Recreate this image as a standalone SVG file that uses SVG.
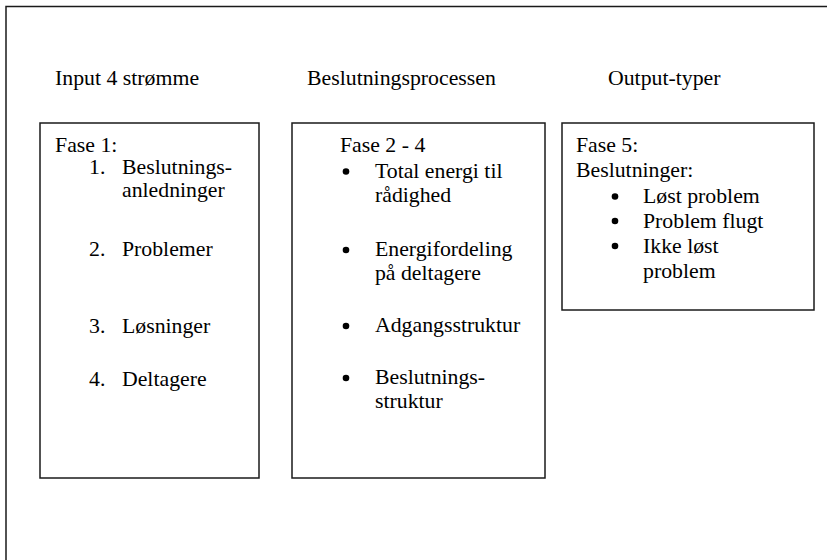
<svg xmlns="http://www.w3.org/2000/svg" width="827" height="560" viewBox="0 0 827 560">
  <style>
    .frame { fill: none; stroke: #1a1a1a; stroke-width: 1.5; }
    .box { fill: #ffffff; stroke: #1a1a1a; stroke-width: 1.5; }
    .t { font-family: "Liberation Serif", "Times New Roman", serif; font-size: 20px; fill: #000; }
    .dot { fill: #000; }
  </style>
  <rect width="827" height="560" fill="#ffffff"/>
  <!-- outer frame: left and top edges -->
  <path class="frame" d="M6,560 V6.5 H827"/>

  <!-- column headings -->
  <g id="headings" transform="scale(1.09 1)">
    <text class="t" x="50.5" y="85">Input 4 strømme</text>
    <text class="t" x="281.7" y="85">Beslutningsprocessen</text>
    <text class="t" x="557.8" y="85">Output-typer</text>
  </g>

  <!-- phase 1: input streams -->
  <g id="fase1">
    <rect class="box" x="40" y="123" width="219" height="355"/>
    <g transform="scale(1.09 1)">
      <text class="t" x="50.5" y="152">Fase 1:</text>
      <text class="t" x="81.7" y="174">1.</text>
      <text class="t" x="111.9" y="174">Beslutnings-</text>
      <text class="t" x="111.9" y="197">anledninger</text>
      <text class="t" x="81.7" y="256">2.</text>
      <text class="t" x="111.9" y="256">Problemer</text>
      <text class="t" x="81.7" y="333">3.</text>
      <text class="t" x="111.9" y="333">Løsninger</text>
      <text class="t" x="81.7" y="386">4.</text>
      <text class="t" x="111.9" y="386">Deltagere</text>
    </g>
  </g>

  <!-- phases 2-4: decision process -->
  <g id="fase2-4">
    <rect class="box" x="292" y="123" width="253" height="355"/>
    <circle class="dot" cx="346" cy="171.5" r="3.3"/>
    <circle class="dot" cx="346" cy="250" r="3.3"/>
    <circle class="dot" cx="346" cy="326" r="3.3"/>
    <circle class="dot" cx="346" cy="378" r="3.3"/>
    <g transform="scale(1.09 1)">
      <text class="t" x="311.9" y="152">Fase 2 - 4</text>
      <text class="t" x="344" y="178">Total energi til</text>
      <text class="t" x="344" y="202">rådighed</text>
      <text class="t" x="344" y="256">Energifordeling</text>
      <text class="t" x="344" y="280">på deltagere</text>
      <text class="t" x="344" y="332">Adgangsstruktur</text>
      <text class="t" x="344" y="384">Beslutnings-</text>
      <text class="t" x="344" y="408">struktur</text>
    </g>
  </g>

  <!-- phase 5: output types -->
  <g id="fase5">
    <rect class="box" x="562" y="123" width="252" height="187"/>
    <circle class="dot" cx="615" cy="196.5" r="3.3"/>
    <circle class="dot" cx="615" cy="221" r="3.3"/>
    <circle class="dot" cx="615" cy="246" r="3.3"/>
    <g transform="scale(1.09 1)">
      <text class="t" x="528.4" y="152">Fase 5:</text>
      <text class="t" x="528.4" y="177">Beslutninger:</text>
      <text class="t" x="589.9" y="203">Løst problem</text>
      <text class="t" x="589.9" y="228">Problem flugt</text>
      <text class="t" x="589.9" y="253">Ikke løst</text>
      <text class="t" x="589.9" y="278">problem</text>
    </g>
  </g>
</svg>
